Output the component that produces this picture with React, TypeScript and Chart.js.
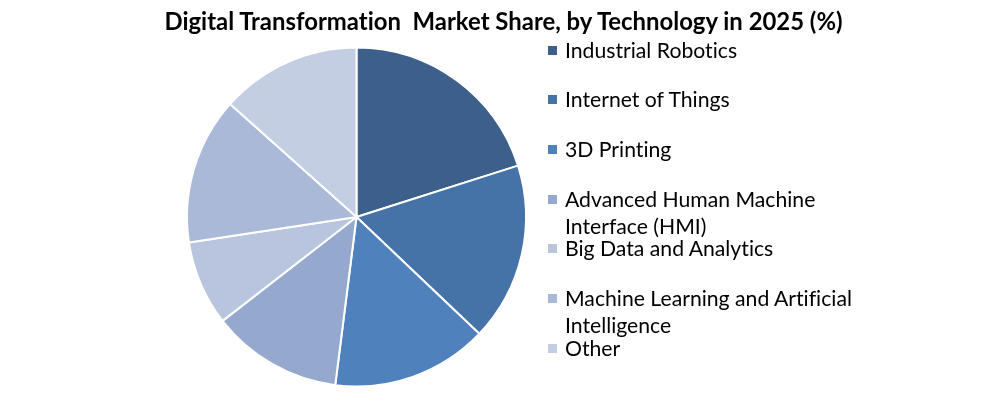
import React, { useEffect, useRef } from 'react';
import { Chart, registerables } from 'chart.js';

Chart.register(...registerables);

const title = 'Digital Transformation  Market Share, by Technology in 2025 (%)';
const technologies = [
  'Industrial Robotics',
  'Internet of Things',
  '3D Printing',
  'Advanced Human Machine Interface (HMI)',
  'Big Data and Analytics',
  'Machine Learning and Artificial Intelligence',
  'Other',
];
const shares = [20.1, 17, 14.9, 12.5, 8.1, 14, 13.4];
const colors = ['#3d5f8b', '#4572a7', '#4f81bd', '#95a8ce', '#b9c5de', '#a9b9d7', '#c4cee2'];

const FONT = 'Lato, "Noto Sans", sans-serif';

const MarketShareChart: React.FC = () => {
  const chartRef = useRef<HTMLCanvasElement>(null);
  const chartInstanceRef = useRef<Chart | null>(null);

  useEffect(() => {
    document.body.style.margin = '0';
    if (chartRef.current) {
      if (chartInstanceRef.current) {
        chartInstanceRef.current.destroy();
      }
      const ctx = chartRef.current.getContext('2d');
      if (ctx) {
        chartInstanceRef.current = new Chart(ctx, {
          type: 'pie',
          data: {
            labels: technologies,
            datasets: [{
              data: shares,
              backgroundColor: colors,
              borderColor: '#ffffff',
              borderWidth: 2,
            }]
          },
          options: {
            responsive: false,
            animation: false,
            layout: {
              padding: { left: 186, right: 480, top: 46.5, bottom: 27.5 }
            },
            plugins: {
              legend: { display: false },
              title: { display: false },
              tooltip: { enabled: false }
            }
          }
        });
      }
    }
    return () => {
      if (chartInstanceRef.current) {
        chartInstanceRef.current.destroy();
        chartInstanceRef.current = null;
      }
    };
  }, []);

  return (
    <div style={{
      position: 'relative', width: 1007, height: 415, fontFamily: FONT, background: '#fff',
      fontVariantLigatures: 'none'
    }}>
      <canvas ref={chartRef} width={1007} height={415} style={{ position: 'absolute', left: 0, top: 0 }}></canvas>
      <div style={{
        position: 'absolute', left: 0, width: 1007, top: 20.5 - 15, height: 30, lineHeight: '30px',
        textAlign: 'center', fontWeight: 700, fontSize: 23.9, color: '#000', whiteSpace: 'pre'
      }}>{title}</div>
      {technologies.map((name, i) => {
        const centerY = 50 + i * 49.67;
        return (
          <div key={name} style={{ position: 'absolute', left: 548, top: centerY - 13.5 }}>
            <div style={{
              position: 'absolute', left: 0, top: 9, width: 9, height: 9, background: colors[i]
            }} />
            <div style={{
              position: 'absolute', left: 17, top: 0, width: 300, fontSize: 21.2, lineHeight: '27px', color: '#000'
            }}>{name}</div>
          </div>
        );
      })}
    </div>
  );
};

export default function App() {
  return <MarketShareChart />;
}
